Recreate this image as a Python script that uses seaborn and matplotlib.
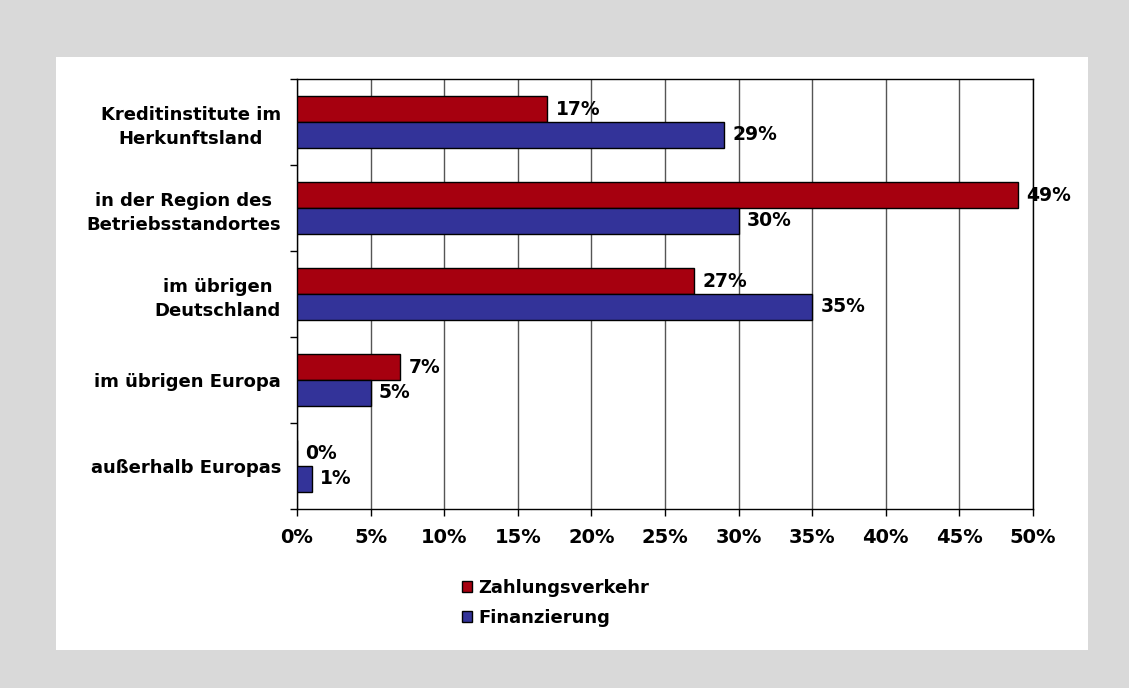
import matplotlib
matplotlib.use("Agg")
import matplotlib.pyplot as plt
from matplotlib.patches import Rectangle, Patch
from matplotlib.ticker import FixedLocator, PercentFormatter
import pandas as pd
import seaborn as sns

categories = [
    "Kreditinstitute im\nHerkunftsland",
    "in der Region des\nBetriebsstandortes",
    "im übrigen\nDeutschland",
    "im übrigen Europa",
    "außerhalb Europas",
]
zahlungsverkehr = [17, 49, 27, 7, 0]
finanzierung = [29, 30, 35, 5, 1]
series_names = ["Zahlungsverkehr", "Finanzierung"]
series_colors = ["#A6000F", "#333399"]
x_ticks = [0, 5, 10, 15, 20, 25, 30, 35, 40, 45, 50]

df = pd.DataFrame({
    "Kategorie": categories * 2,
    "Serie": [series_names[0]] * len(categories) + [series_names[1]] * len(categories),
    "Wert": zahlungsverkehr + finanzierung,
})

sns.set_theme(style="white")
plt.rcParams["font.family"] = ["DejaVu Sans"]
plt.rcParams["font.weight"] = "bold"
plt.rcParams["text.color"] = "black"
plt.rcParams["xtick.color"] = "black"
plt.rcParams["ytick.color"] = "black"

FS_Y = 13
FS_X = 14
FS_LABEL = 13.5
FS_LEG = 13

fig = plt.figure(figsize=(11.29, 6.88), dpi=100)
fig.patch.set_facecolor("#D9D9D9")
W, H = 1129, 688
# white card behind the chart
card = Rectangle((56 / W, 1 - 650 / H), (1088 - 56) / W, (650 - 57) / H,
                 transform=fig.transFigure, facecolor="white",
                 edgecolor="none", zorder=-10)
fig.add_artist(card)

ax = fig.add_axes([297 / W, 1 - 509 / H, (1033 - 297) / W, (509 - 79) / H])
ax.set_zorder(5)
ax.set_facecolor("white")

sns.barplot(data=df, y="Kategorie", x="Wert", hue="Serie", order=categories,
            hue_order=series_names, palette=series_colors, width=0.6, gap=0,
            orient="h", edgecolor="black", linewidth=1.0, saturation=1,
            legend=False, ax=ax, zorder=3)

for cont in ax.containers:
    ax.bar_label(cont, fmt="%g%%", padding=6, fontsize=FS_LABEL,
                 fontweight="bold", color="black")

ax.set_xlim(0, 50)
ax.set_ylim(4.5, -0.5)
ax.xaxis.set_major_locator(FixedLocator(x_ticks))
ax.xaxis.set_major_formatter(PercentFormatter(decimals=0))
ax.grid(axis="x", color="#555555", linewidth=1.0, zorder=0)
ax.grid(axis="y", visible=False)
ax.set_axisbelow(True)

ax.set_yticks(range(len(categories)))
ax.set_yticklabels(categories, fontsize=FS_Y, fontweight="bold", ha="right",
                   multialignment="center", linespacing=1.4)
ax.yaxis.set_minor_locator(FixedLocator([i - 0.5 for i in range(len(categories) + 1)]))
ax.tick_params(axis="y", which="major", length=0, pad=11.5)
ax.tick_params(axis="y", which="minor", length=5, width=1, color="black",
               direction="out", left=True)
ax.tick_params(axis="x", which="major", length=5, width=1, color="black",
               direction="out", bottom=True, pad=9, labelsize=FS_X)
for lab in ax.get_xticklabels():
    lab.set_fontweight("bold")

ax.set_xlabel("")
ax.set_ylabel("")
for side in ["left", "bottom", "top", "right"]:
    ax.spines[side].set_visible(True)
    ax.spines[side].set_color("black")
    ax.spines[side].set_linewidth(1.0)

handles = [Patch(facecolor=c, edgecolor="black", linewidth=1.0) for c in series_colors]
leg = fig.legend(handles, series_names, loc="upper left",
                 bbox_to_anchor=(455 / W, 1 - 572 / H), frameon=False,
                 prop={"size": FS_LEG, "weight": "bold"}, handlelength=0.55,
                 handleheight=0.55, handletextpad=0.35, labelspacing=0.65,
                 borderaxespad=0)
for t in leg.get_texts():
    t.set_color("black")

fig.savefig("out.png", dpi=100, facecolor=fig.get_facecolor())
